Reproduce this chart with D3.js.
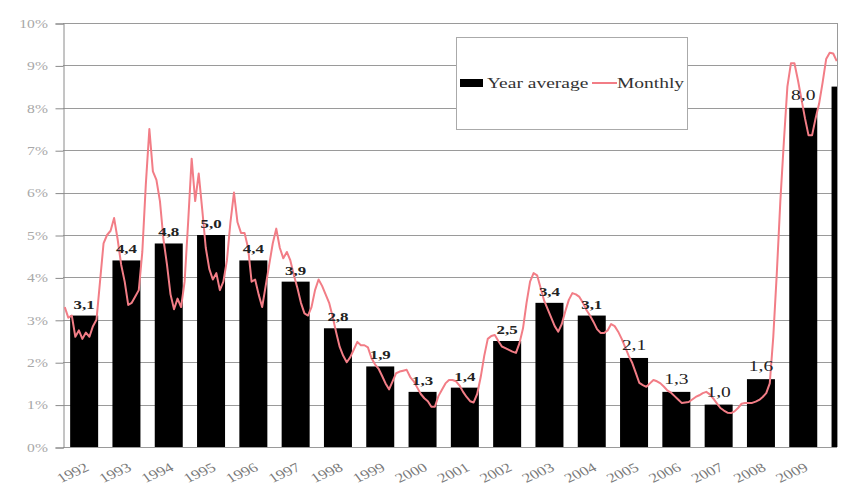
<!DOCTYPE html>
<html><head><meta charset="utf-8">
<script src="https://cdn.jsdelivr.net/npm/d3@7"></script>
<style>body{margin:0;background:#fff}svg{display:block}</style>
</head><body>
<script>
const years = ["1992","1993","1994","1995","1996","1997","1998","1999","2000","2001","2002","2003","2004","2005","2006","2007","2008","2009","2010"];
const yearAverage = [3.1,4.4,4.8,5.0,4.4,3.9,2.8,1.9,1.3,1.4,2.5,3.4,3.1,2.1,1.3,1.0,1.6,8.0,8.5];
const barLabels = ["3,1","4,4","4,8","5,0","4,4","3,9","2,8","1,9","1,3","1,4","2,5","3,4","3,1","2,1","1,3","1,0","1,6","8,0",""];
const monthly = [
 3.3,3.05,3.1,2.6,2.75,2.55,2.7,2.6,2.85,3.0,3.9,4.8,
 5.0,5.1,5.4,4.9,4.3,3.9,3.35,3.4,3.55,3.7,4.6,6.2,
 7.5,6.5,6.3,5.8,4.9,4.3,3.6,3.25,3.5,3.3,3.9,5.3,
 6.8,5.8,6.45,5.6,4.7,4.2,3.95,4.1,3.7,3.9,4.4,5.3,
 6.0,5.3,5.05,5.05,4.7,3.9,3.95,3.6,3.3,3.8,4.3,4.8,
 5.15,4.7,4.45,4.6,4.4,4.05,3.75,3.4,3.15,3.1,3.3,3.7,
 3.95,3.8,3.6,3.4,3.07,2.7,2.36,2.15,2.0,2.12,2.3,2.48,
 2.4,2.4,2.35,2.1,1.95,1.85,1.68,1.5,1.36,1.55,1.74,1.78,
 1.8,1.82,1.65,1.55,1.4,1.25,1.15,1.08,0.95,0.95,1.2,1.35,
 1.5,1.58,1.58,1.55,1.45,1.3,1.18,1.08,1.05,1.25,1.65,2.15,
 2.55,2.62,2.64,2.5,2.37,2.33,2.29,2.25,2.22,2.45,2.8,3.4,
 3.9,4.1,4.05,3.75,3.45,3.25,3.05,2.85,2.72,2.9,3.2,3.47,
 3.63,3.6,3.54,3.4,3.23,3.1,2.95,2.78,2.69,2.69,2.75,2.9,
 2.85,2.72,2.55,2.35,2.15,1.98,1.75,1.51,1.46,1.42,1.5,1.58,
 1.55,1.5,1.42,1.33,1.28,1.2,1.12,1.04,1.05,1.06,1.12,1.18,
 1.22,1.27,1.3,1.24,1.14,1.03,0.92,0.86,0.81,0.8,0.84,0.92,
 1.02,1.04,1.04,1.04,1.07,1.11,1.18,1.27,1.5,2.6,4.1,5.8,
 7.2,8.5,9.05,9.05,8.65,8.2,7.75,7.35,7.35,7.75,8.1,8.6,
 9.15,9.3,9.28,9.1
];
const yTicks = [0,1,2,3,4,5,6,7,8,9,10];
const legendLabels = ["Year average","Monthly"];

const W = 849, H = 490;
const L = 63, R = 837, T = 23, B = 447;
const step = 42.3;
const SX = 1.3; // horizontal stretch of the reference's text
const serif = "'Liberation Serif','Times New Roman',serif";

const svg = d3.select("body").append("svg").attr("width", W).attr("height", H);

const x = d3.scaleBand().domain(years).range([L, L + years.length * step]).padding(0);
const xm = d3.scaleLinear().domain([0, years.length * 12]).range([L, L + years.length * step]);
const y = d3.scaleLinear().domain([0, 10]).range([B, T]);

svg.append("defs").append("clipPath").attr("id", "plot")
  .append("rect").attr("x", L).attr("y", T - 2).attr("width", R - L).attr("height", B - T + 4);

// gridlines
svg.append("g").selectAll("line").data(yTicks).join("line")
  .attr("x1", L).attr("x2", R).attr("y1", d => Math.round(y(d)) + 0.5).attr("y2", d => Math.round(y(d)) + 0.5)
  .attr("stroke", "#9a9a9a").attr("stroke-width", 1);
svg.append("line").attr("x1", R + 0.5).attr("x2", R + 0.5).attr("y1", T).attr("y2", B)
  .attr("stroke", "#9a9a9a");

// y axis
const ya = svg.append("g").attr("transform", `translate(${L + 0.5},0.5)`)
  .call(d3.axisLeft(y).tickValues(yTicks).tickSize(8).tickFormat(d => d + "%"));
ya.selectAll("path,line").attr("stroke", "#8a8a8a");
ya.selectAll(".tick text").style("font-family", serif).style("font-size", "12px").attr("fill", "#a8a8a8")
  .attr("x", -12).attr("transform", `scale(${SX},1)`);

const plot = svg.append("g").attr("clip-path", "url(#plot)");
const bw = 28;
plot.selectAll("rect.bar").data(years).join("rect").attr("class", "bar")
  .attr("x", d => x(d) + (x.bandwidth() - bw) / 2)
  .attr("width", bw)
  .attr("y", (d, i) => y(yearAverage[i]))
  .attr("height", (d, i) => B - y(yearAverage[i]))
  .attr("fill", "#000");

const line = d3.line().x((d, i) => xm(i + 0.5)).y(d => y(d));
plot.append("path").datum(monthly).attr("d", line)
  .attr("fill", "none").attr("stroke", "#f27d86").attr("stroke-width", 2).attr("stroke-linejoin", "round");

// bar labels
svg.append("g").selectAll("text").data(years.slice(0, 18)).join("text")
  .attr("transform", (d, i) => `translate(${x(d) + x.bandwidth() / 2},${y(yearAverage[i]) - (i >= 13 ? 8 : 7)}) scale(${SX},1)`)
  .attr("text-anchor", "middle")
  .style("font-family", serif)
  .style("font-weight", (d, i) => i >= 13 ? "normal" : "bold")
  .style("font-size", (d, i) => i >= 13 ? "15px" : "13px")
  .attr("fill", "#222")
  .text((d, i) => barLabels[i]);

// x axis labels
svg.append("g").selectAll("text").data(years.slice(0, 18)).join("text")
  .attr("transform", d => `translate(${x(d) + x.bandwidth() / 2 + 6},${B + 23}) scale(${SX},1) rotate(-30)`)
  .attr("text-anchor", "end")
  .style("font-family", serif).style("font-size", "13px").attr("fill", "#7a7a7a")
  .text(d => d);

// legend
const lg = svg.append("g");
lg.append("rect").attr("x", 456.5).attr("y", 37.5).attr("width", 231).attr("height", 92)
  .attr("fill", "#fff").attr("stroke", "#aaa");
lg.append("rect").attr("x", 460).attr("y", 79).attr("width", 23).attr("height", 8).attr("fill", "#000");
lg.append("text").attr("transform", `translate(487,88) scale(${SX},1)`).style("font-family", serif).style("font-size", "15px")
  .attr("fill", "#333").text(legendLabels[0]);
lg.append("line").attr("x1", 592).attr("x2", 617).attr("y1", 83).attr("y2", 83)
  .attr("stroke", "#f27d86").attr("stroke-width", 2);
lg.append("text").attr("transform", `translate(617,88) scale(${SX},1)`).style("font-family", serif).style("font-size", "15px")
  .attr("fill", "#333").text(legendLabels[1]);
</script>
</body></html>
